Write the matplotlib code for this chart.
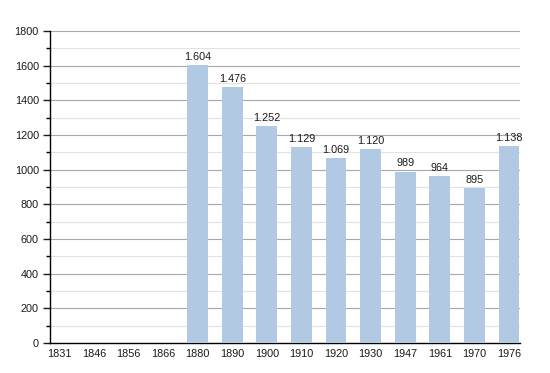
import matplotlib
matplotlib.use("Agg")
import matplotlib.pyplot as plt
from matplotlib.ticker import MultipleLocator

# ── Data ──────────────────────────────────────────────────────────────
years = ["1831", "1846", "1856", "1866", "1880", "1890", "1900",
         "1910", "1920", "1930", "1947", "1961", "1970", "1976"]
population = [None, None, None, None, 1604, 1476, 1252,
              1129, 1069, 1120, 989, 964, 895, 1138]

BAR_COLOR = "#b2c9e3"

plt.rcParams["font.family"] = ["Liberation Sans", "DejaVu Sans"]
plt.rcParams["font.size"] = 7.8

fig = plt.figure(figsize=(5.5, 3.73), dpi=100)
ax = fig.add_axes([0.0909, 0.0804, 0.8546, 0.8365])

xs = list(range(len(years)))
for x, v in zip(xs, population):
    if v is None:
        continue
    ax.bar(x, v, width=0.6, color=BAR_COLOR, zorder=3)
    label = f"{v:,}".replace(",", ".")
    ax.text(x, v + 18, label, ha="center", va="bottom", fontsize=7.8,
            color="#1a1a1a", zorder=4)

ax.set_xlim(-0.27, 13.32)
ax.set_ylim(0, 1800)
ax.set_xticks(xs)
ax.set_xticklabels(years)
ax.yaxis.set_major_locator(MultipleLocator(200))
ax.yaxis.set_minor_locator(MultipleLocator(100))

# gridlines: darker major, light minor
ax.grid(axis="y", which="major", color="#a8a8a8", linewidth=0.8, zorder=1)
ax.grid(axis="y", which="minor", color="#e2e2e2", linewidth=0.8, zorder=1)
ax.grid(axis="x", visible=False)

for side in ("top", "right"):
    ax.spines[side].set_visible(False)
ax.spines["left"].set_linewidth(1.0)
ax.spines["bottom"].set_linewidth(1.0)

ax.tick_params(axis="x", length=0, pad=4, colors="#1a1a1a")
ax.tick_params(axis="y", which="major", length=5, width=1.0, pad=3,
               colors="#1a1a1a")
ax.tick_params(axis="y", which="minor", length=3, width=1.0)

fig.savefig("out.png", dpi=100)
